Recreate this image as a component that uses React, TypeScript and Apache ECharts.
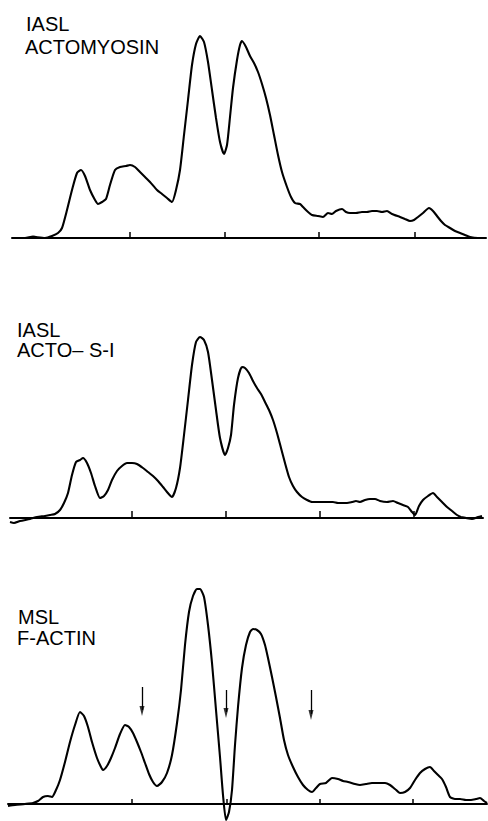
import React, { useEffect, useRef } from "react";
import * as echarts from "echarts";

// Densitometer scans: [position, absorbance (arbitrary units above baseline)]
const actomyosinScan: [number, number][] = [
  [12, 0], [25, 0], [33, 1.5], [36, 1], [45, 0], [52, 2], [58, 5], [62, 10], [67, 28], [72, 48],
  [77, 65], [81, 68], [85, 62], [90, 48], [95, 38], [98, 34], [102, 36], [106, 39], [110, 53],
  [115, 68], [120, 71], [126, 72], [130, 73], [135, 71], [140, 66], [145, 61], [150, 56], [157, 48],
  [162, 44], [167, 40], [172, 36], [176, 48], [180, 68], [184, 103], [188, 138], [192, 173],
  [196, 194], [200, 202], [204, 196], [208, 176], [212, 148], [216, 120], [220, 96], [224, 84],
  [227, 93], [230, 121], [233, 150], [237, 178], [240, 193], [242, 197], [246, 191], [250, 182],
  [254, 175], [258, 166], [262, 154], [266, 140], [270, 123], [274, 103], [278, 83], [282, 66],
  [287, 51], [291, 41], [295, 35], [300, 34], [303, 31], [307, 27], [312, 23], [318, 22], [323, 21],
  [328, 25], [332, 24], [336, 27], [342, 29], [346, 26], [350, 25], [356, 25], [362, 26], [367, 26],
  [372, 27], [377, 27], [382, 26], [387, 27], [392, 24], [400, 21], [405, 19], [410, 17], [414, 18],
  [418, 21], [423, 25], [429, 30], [433, 27], [437, 22], [441, 17], [445, 13], [450, 10], [455, 7],
  [460, 5], [465, 3], [470, 1], [478, 0], [486, 0],
];

const actoS1Scan: [number, number][] = [
  [10, -4], [14, -5], [20, -3], [30, -1], [37, 1], [45, 2], [50, 3], [55, 4], [60, 8], [64, 15],
  [68, 25], [72, 43], [76, 56], [80, 58], [83, 60], [87, 55], [91, 45], [95, 32], [100, 20],
  [104, 22], [108, 28], [112, 38], [117, 47], [122, 52], [127, 55], [132, 55], [137, 54], [143, 50],
  [148, 46], [153, 42], [158, 37], [163, 31], [167, 26], [172, 21], [176, 30], [180, 50], [184, 83],
  [188, 118], [192, 153], [196, 176], [200, 181], [204, 178], [208, 166], [212, 138], [216, 108],
  [220, 80], [225, 63], [228, 70], [231, 83], [234, 113], [238, 140], [242, 151], [245, 150],
  [249, 145], [253, 137], [257, 130], [261, 124], [265, 116], [269, 108], [273, 98], [277, 85],
  [281, 70], [285, 55], [289, 41], [293, 32], [297, 26], [302, 21], [307, 18], [312, 16], [317, 16],
  [322, 16], [328, 16], [333, 16], [338, 15], [343, 15], [347, 15], [352, 16], [356, 17], [360, 16],
  [365, 18], [370, 19], [375, 19], [380, 17], [387, 16], [393, 17], [398, 15], [403, 13], [408, 11],
  [412, 6], [415, 3], [419, 12], [423, 18], [428, 22], [433, 25], [437, 21], [442, 16], [447, 11],
  [452, 7], [457, 3], [461, 1], [466, 0], [472, -1], [478, 1], [482, 2],
];

const fActinScan: [number, number][] = [
  [8, -2], [15, -1], [25, 0], [33, 1], [38, 3], [43, 7], [48, 8], [52, 7], [56, 14], [60, 24],
  [65, 42], [70, 62], [75, 79], [80, 92], [84, 88], [88, 77], [92, 62], [97, 46], [101, 37],
  [103, 34], [107, 38], [111, 46], [115, 56], [120, 70], [125, 79], [129, 77], [133, 71], [137, 62],
  [141, 52], [145, 41], [149, 30], [153, 22], [157, 18], [162, 22], [167, 31], [172, 49], [177, 81],
  [181, 114], [185, 159], [189, 192], [193, 208], [197, 215], [200, 215], [204, 207], [208, 179],
  [212, 141], [216, 94], [220, 47], [223, 9], [226, -16], [229, -8], [232, 14], [235, 59], [238, 97],
  [242, 136], [246, 159], [250, 172], [253, 175], [257, 174], [261, 170], [265, 159], [268, 146],
  [272, 127], [276, 107], [280, 86], [284, 64], [288, 49], [293, 37], [298, 27], [303, 19],
  [308, 14], [312, 12], [316, 16], [320, 20], [326, 21], [332, 26], [338, 25], [343, 23], [348, 22],
  [355, 20], [360, 19], [366, 20], [372, 21], [378, 21], [385, 21], [390, 19], [395, 15], [400, 11],
  [405, 12], [410, 16], [415, 24], [420, 31], [425, 35], [430, 37], [434, 33], [438, 29], [442, 25],
  [446, 17], [450, 7], [455, 5], [460, 5], [466, 4], [471, 4], [476, 5], [480, 6], [484, 3], [487, 1],
];

// Tick marks on each baseline
const ticks1 = [130, 225, 319, 415];
const ticks2 = [132, 226, 320, 414];
const ticks3 = [132, 227, 320, 413];

// Arrows in the F-actin panel: position, top of shaft, tip
const arrowX = [142, 226, 311];
const arrowTop = [117, 114, 114];
const arrowTip = [88, 86, 84];

// Panel labels
const labels1 = ["IASL", "ACTOMYOSIN"];
const labels2 = ["IASL", "ACTO– S-I"];
const labels3 = ["MSL", "F-ACTIN"];

export default function App() {
  const ref = useRef<HTMLDivElement>(null);
  useEffect(() => {
    if (!ref.current) return;
    const chart = echarts.init(ref.current, null, { renderer: "svg" });
    const ink = "#000";
    const panels = [
      { grid: { left: 12, width: 474, top: 18, height: 220 }, min: 12, max: 486, yMin: 0, yMax: 220, ticks: ticks1, tickLen: 6, data: actomyosinScan },
      { grid: { left: 10, width: 473, top: 298, height: 220 }, min: 10, max: 483, yMin: 0, yMax: 220, ticks: ticks2, tickLen: 7, data: actoS1Scan },
      { grid: { left: 8, width: 479, top: 574, height: 246 }, min: 8, max: 487, yMin: -16, yMax: 230, ticks: ticks3, tickLen: 5, data: fActinScan },
    ];
    const font = "'Liberation Sans', Arial, sans-serif";
    const textEl = (t: string, x: number, y: number, size: number) => ({
      type: "text",
      x,
      y,
      style: { text: t, fill: ink, font: `${size}px ${font}`, textVerticalAlign: "middle", verticalAlign: "middle" },
    });
    const series: any[] = panels.map((p, i) => ({
      type: "line",
      xAxisIndex: i,
      yAxisIndex: i,
      data: p.data,
      showSymbol: false,
      smooth: 0.2,
      clip: false,
      lineStyle: { color: ink, width: 2.1 },
      silent: true,
      ...(i === 2
        ? {
            markLine: {
              silent: true,
              symbol: ["none", "none"],
              animation: false,
              label: { show: false },
              lineStyle: { color: ink, width: 1.3, type: "solid" },
              data: arrowX.map((x, k) => [
                { coord: [x, arrowTop[k]] },
                { coord: [x, arrowTip[k] + 6] },
              ]),
            },
          }
        : {}),
    }));
    series.push({
      type: "scatter",
      xAxisIndex: 2,
      yAxisIndex: 2,
      data: arrowX.map((x, k) => [x, arrowTip[k]]),
      symbol: "path://M0,0 L10,0 L5,20 Z",
      symbolSize: [5, 10],
      symbolOffset: [0, -5],
      symbolKeepAspect: false,
      itemStyle: { color: ink },
      silent: true,
      clip: false,
    });
    chart.setOption({
      animation: false,
      backgroundColor: "#fff",
      grid: panels.map((p) => ({ ...p.grid, containLabel: false })),
      xAxis: panels.map((p, i) => ({
        type: "value",
        gridIndex: i,
        min: p.min,
        max: p.max,
        axisLine: { show: true, onZero: true, lineStyle: { color: ink, width: 2 } },
        axisTick: {
          show: true,
          inside: true,
          length: p.tickLen,
          customValues: p.ticks,
          lineStyle: { color: ink, width: 1.5 },
        },
        axisLabel: { show: false },
        splitLine: { show: false },
      })),
      yAxis: panels.map((p, i) => ({
        type: "value",
        gridIndex: i,
        min: p.yMin,
        max: p.yMax,
        show: false,
        splitLine: { show: false },
      })),
      series,
      graphic: [
        textEl(labels1[0], 26, 24, 20),
        textEl(labels1[1], 25, 47, 20),
        textEl(labels2[0], 17, 330, 20),
        textEl(labels2[1], 17, 350, 20),
        textEl(labels3[0], 18, 617, 20),
        textEl(labels3[1], 17, 638, 20),
      ],
    });
    return () => chart.dispose();
  }, []);
  return <div ref={ref} style={{ position: "absolute", left: 0, top: 0, width: 488, height: 821 }} />;
}
